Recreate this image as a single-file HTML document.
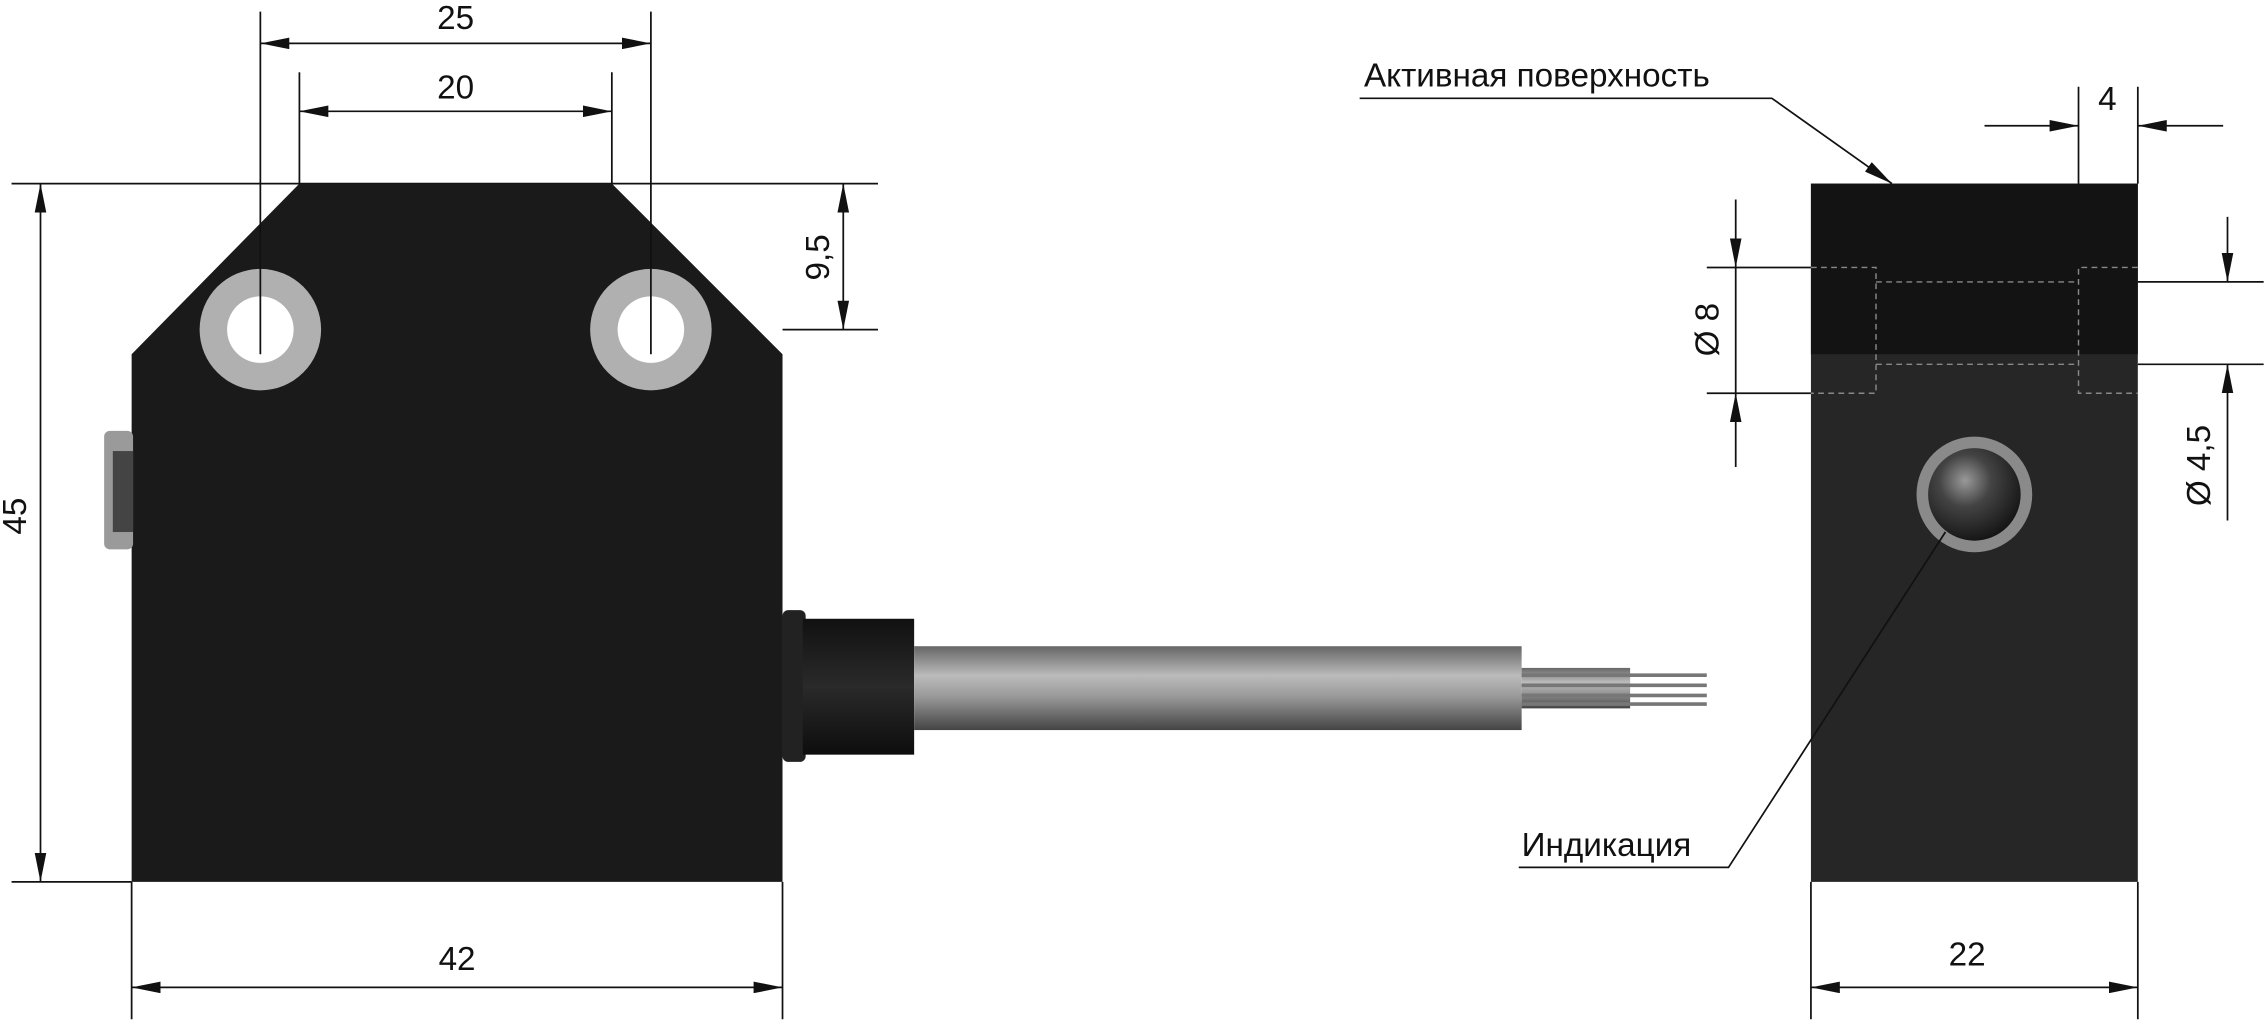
<!DOCTYPE html>
<html><head><meta charset="utf-8"><style>
html,body{margin:0;padding:0;background:#fff;}
svg{display:block;}
text{font-family:"Liberation Sans",sans-serif;fill:#111;}
</style></head><body>
<svg width="2268" height="1025" viewBox="0 0 1568 709" preserveAspectRatio="none" xmlns="http://www.w3.org/2000/svg">
<defs>
<linearGradient id="cab" x1="0" y1="0" x2="0" y2="1">
<stop offset="0" stop-color="#666"/><stop offset="0.35" stop-color="#bbb"/><stop offset="0.6" stop-color="#999"/><stop offset="1" stop-color="#444"/></linearGradient>
<linearGradient id="gl" x1="0" y1="0" x2="0" y2="1">
<stop offset="0" stop-color="#111"/><stop offset="0.5" stop-color="#2a2a2a"/><stop offset="1" stop-color="#0d0d0d"/></linearGradient>
<radialGradient id="led" cx="0.4" cy="0.35" r="0.7">
<stop offset="0" stop-color="#999"/><stop offset="0.4" stop-color="#444"/><stop offset="1" stop-color="#111"/></radialGradient>
<marker id="a" viewBox="0 0 20 8" refX="20" refY="4" markerWidth="20" markerHeight="8" markerUnits="userSpaceOnUse" orient="auto-start-reverse"><path d="M0,0 L20,4 L0,8 Z" fill="#111"/></marker>
</defs>
<g stroke="#111" stroke-width="1.2" fill="none">
<line x1="8" y1="127" x2="607" y2="127"/>
<line x1="8" y1="610" x2="91" y2="610"/>
<line x1="541" y1="228" x2="607" y2="228"/>
<line x1="207" y1="50" x2="207" y2="127"/>
<line x1="423" y1="50" x2="423" y2="127"/>
<line x1="91" y1="610" x2="91" y2="705"/>
<line x1="541" y1="610" x2="541" y2="705"/>
<line x1="1252" y1="610" x2="1252" y2="705"/>
<line x1="1478" y1="610" x2="1478" y2="705"/>
<line x1="1437" y1="60" x2="1437" y2="127"/>
<line x1="1478" y1="60" x2="1478" y2="127"/>
<line x1="1180" y1="185" x2="1252" y2="185"/>
<line x1="1180" y1="272" x2="1252" y2="272"/>
<line x1="1478" y1="195" x2="1565" y2="195"/>
<line x1="1478" y1="252" x2="1565" y2="252"/>
</g>
<polygon points="207,127 423,127 541,245 541,610 91,610 91,245" fill="#1a1a1a"/>
<rect x="72" y="298" width="20" height="82" rx="4" fill="#9a9a9a"/>
<rect x="78" y="312" width="14" height="56" fill="#444"/>
<circle cx="180" cy="228" r="42" fill="#b0b0b0"/><circle cx="180" cy="228" r="23" fill="#fff"/>
<circle cx="450" cy="228" r="42" fill="#b0b0b0"/><circle cx="450" cy="228" r="23" fill="#fff"/>
<g stroke="#111" stroke-width="1.2">
<line x1="180" y1="8" x2="180" y2="245"/>
<line x1="450" y1="8" x2="450" y2="245"/>
</g>
<rect x="541" y="422" width="16" height="105" rx="4" fill="#222"/>
<rect x="555" y="428" width="77" height="94" fill="url(#gl)"/>
<rect x="632" y="447" width="420" height="58" fill="url(#cab)"/>
<rect x="1052" y="462" width="75" height="28" fill="url(#cab)"/>
<g stroke="#777" stroke-width="2.5"><line x1="1052" y1="467" x2="1180" y2="467"/><line x1="1052" y1="474" x2="1180" y2="474"/><line x1="1052" y1="481" x2="1180" y2="481"/><line x1="1052" y1="487" x2="1180" y2="487"/></g>
<rect x="1252" y="127" width="226" height="483" fill="#262626"/>
<rect x="1252" y="127" width="226" height="118" fill="#131313"/>
<g stroke="#888" stroke-width="1" stroke-dasharray="4,3" fill="none">
<polyline points="1252,185 1297,185 1297,272 1252,272"/>
<polyline points="1478,185 1437,185 1437,272 1478,272"/>
<line x1="1297" y1="195" x2="1437" y2="195"/>
<line x1="1297" y1="252" x2="1437" y2="252"/>
</g>
<circle cx="1365" cy="342" r="40" fill="#8a8a8a"/>
<circle cx="1365" cy="342" r="32" fill="url(#led)"/>
<g stroke="#111" stroke-width="1.2" fill="none">
<line x1="180" y1="30" x2="450" y2="30" marker-start="url(#a)" marker-end="url(#a)"/>
<line x1="207" y1="77" x2="423" y2="77" marker-start="url(#a)" marker-end="url(#a)"/>
<line x1="583" y1="127" x2="583" y2="228" marker-start="url(#a)" marker-end="url(#a)"/>
<line x1="28" y1="127" x2="28" y2="610" marker-start="url(#a)" marker-end="url(#a)"/>
<line x1="91" y1="683" x2="541" y2="683" marker-start="url(#a)" marker-end="url(#a)"/>
<line x1="1252" y1="683" x2="1478" y2="683" marker-start="url(#a)" marker-end="url(#a)"/>
<line x1="1372" y1="87" x2="1437" y2="87" marker-end="url(#a)"/>
<line x1="1537" y1="87" x2="1478" y2="87" marker-end="url(#a)"/>
<line x1="1200" y1="138" x2="1200" y2="185" marker-end="url(#a)"/>
<line x1="1200" y1="323" x2="1200" y2="272" marker-end="url(#a)"/>
<line x1="1200" y1="185" x2="1200" y2="272"/>
<line x1="1540" y1="150" x2="1540" y2="195" marker-end="url(#a)"/>
<line x1="1540" y1="360" x2="1540" y2="252" marker-end="url(#a)"/>
<polyline points="940,68 1225,68 1308,127" marker-end="url(#a)"/>
<polyline points="1050,600 1195,600 1345,368"/>
</g>
<g font-size="23">
<text x="315" y="20" text-anchor="middle">25</text>
<text x="315" y="68" text-anchor="middle">20</text>
<text x="316" y="671" text-anchor="middle">42</text>
<text x="1360" y="668" text-anchor="middle">22</text>
<text x="1457" y="76" text-anchor="middle">4</text>
<text x="943" y="60">Активная поверхность</text>
<text x="1052" y="592">Индикация</text>
<text transform="translate(573,178) rotate(-90)" text-anchor="middle">9,5</text>
<text transform="translate(18,357) rotate(-90)" text-anchor="middle">45</text>
<text transform="translate(1188,228) rotate(-90)" text-anchor="middle">Ø 8</text>
<text transform="translate(1528,322) rotate(-90)" text-anchor="middle">Ø 4,5</text>
</g>
</svg>
</body></html>
